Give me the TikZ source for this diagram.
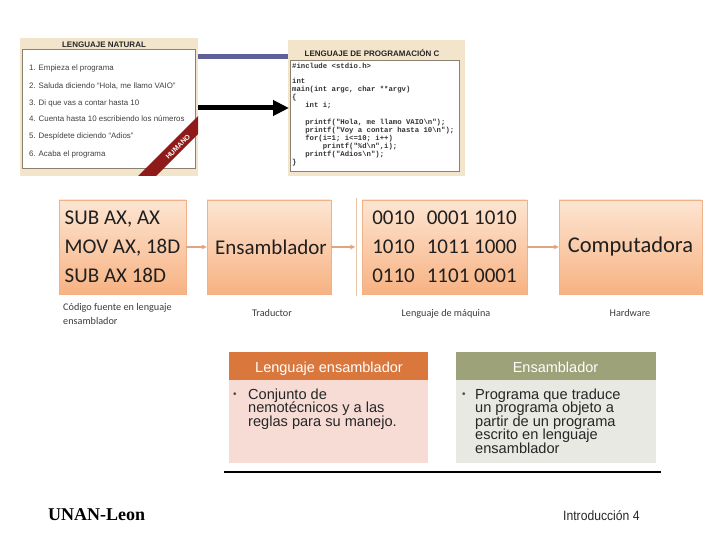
\documentclass[tikz,border=0pt]{standalone}
\usepackage{fontspec}
\setmainfont{Liberation Sans}
\newfontfamily\calfont{Carlito}
\newfontfamily\monofnt{Liberation Mono}
\newfontfamily\serfnt{Liberation Serif}
\newfontfamily\narrowfnt[FakeStretch=0.9]{Liberation Sans}
\usetikzlibrary{arrows.meta}
\definecolor{beige}{HTML}{F2E5CB}
\definecolor{frameC}{HTML}{8C8070}
\definecolor{ribbon}{HTML}{8E1A1A}
\definecolor{pbar}{HTML}{5F6096}
\definecolor{ftop}{HTML}{FDE5D2}
\definecolor{fbot}{HTML}{F7B282}
\definecolor{fborder}{HTML}{F0B088}
\definecolor{farrowC}{HTML}{E2A47C}
\definecolor{vlineC}{HTML}{EBC6A6}
\definecolor{capC}{HTML}{3C3C3C}
\definecolor{hOrange}{HTML}{D9773D}
\definecolor{hGreen}{HTML}{9DA279}
\definecolor{bPink}{HTML}{F6DCD5}
\definecolor{bGrey}{HTML}{E8E9E2}
\begin{document}
\begin{tikzpicture}[x=1pt,y=-1pt,
  ttl/.style={font=\bfseries\fontsize{8}{8}\selectfont, text=black!85, inner sep=0pt},
  item/.style={font=\fontsize{7.9}{8}\selectfont, text=black!75, inner sep=0pt, anchor=base west},
  code/.style={font=\monofnt\bfseries\fontsize{7.3}{8}\selectfont, text=black!80, inner sep=0pt, anchor=base west},
  fbox/.style={rectangle, draw=fborder, line width=0.6pt, top color=ftop, bottom color=fbot, font=\calfont\fontsize{21}{29}\selectfont, text=black!88, inner sep=0pt, minimum height=94pt, align=left},
  farrow/.style={draw=farrowC, line width=1.3pt, -{Stealth[length=5pt,width=5pt]}},
  capt/.style={font=\calfont\fontsize{10.2}{12}\selectfont, text=capC, inner sep=0pt, anchor=base},
  hdr/.style={rectangle, inner sep=0pt, minimum height=28pt, text=white, font=\fontsize{14.5}{16}\selectfont},
  bodyb/.style={rectangle, inner sep=0pt, minimum height=83pt},
  btxt/.style={font=\fontsize{14.6}{16}\selectfont, text=black!85, inner sep=0pt, anchor=base west}
]
\useasboundingbox (0,0) rectangle (720,540);
\fill[white] (0,0) rectangle (720,540);

% ---------- top-left image: natural language ----------
\fill[beige] (20,38) rectangle (198,176);
\draw[frameC, fill=white, line width=0.8pt] (22,49) rectangle (195,168);
\node[ttl] (tnat) at (104,45) {LENGUAJE NATURAL};
\node[item] (n1) at (29,70.8) {1. Empieza el programa};
\node[item] (n2) at (29,88.8) {2. Saluda diciendo “Hola, me llamo VAIO”};
\node[item] (n3) at (29,105.8) {3. Di que vas a contar hasta 10};
\node[item] (n4) at (29,121.8) {4. Cuenta hasta 10 escribiendo los números};
\node[item] (n5) at (29,138.8) {5. Despídete diciendo “Adios”};
\node[item] (n6) at (29,156.8) {6. Acaba el programa};
\begin{scope}
  \clip (20,38) rectangle (198,176);
  \fill[ribbon] (132,182) -- (202,112) -- (211,121) -- (141,191) -- cycle;
\end{scope}
\node[font=\bfseries\fontsize{7}{7}\selectfont, text=white, rotate=45, inner sep=0pt] (hum) at (178,147) {HUMANO};

% ---------- top-right image: C program ----------
\fill[beige] (288,40) rectangle (465,176);
\draw[frameC, fill=white, line width=0.8pt] (290,60) rectangle (459,171);
\node[ttl] (tprog) at (372,53) {LENGUAJE DE PROGRAMACIÓN C};
\node[code] (c0) at (292,68.5) {\#include <stdio.h>};
\node[code] (c2) at (292,84) {int};
\node[code] (c3) at (292,92) {main(int argc, char **argv)};
\node[code] (c4) at (292,100) {\{};
\node[code] (c5) at (292,108) {\phantom{xxx}int i;};
\node[code] (c7) at (292,124.5) {\phantom{xxx}printf("Hola, me llamo VAIO\textbackslash n");};
\node[code] (c8) at (292,132.5) {\phantom{xxx}printf("Voy a contar hasta 10\textbackslash n");};
\node[code] (c9) at (292,140.5) {\phantom{xxx}for(i=1; i<=10; i++)};
\node[code] (c10) at (292,148.5) {\phantom{xxxxxxx}printf("\%d\textbackslash n",i);};
\node[code] (c11) at (292,156.5) {\phantom{xxx}printf("Adios\textbackslash n");};
\node[code] (c12) at (292,164.5) {\}};

% bar and arrow between the images
\fill[pbar] (198,54) rectangle (288,59);
\coordinate (aL) at (198,108);
\coordinate (aR) at (289,108);
\draw[line width=5pt, -{Triangle[length=16pt,width=15pt]}] (aL) -- (aR);

% ---------- flow chart ----------
\node[fbox, minimum width=127pt] (b1) at (122.5,247) {SUB AX, AX\\MOV AX, 18D\\SUB AX 18D};
\node[fbox, minimum width=124pt] (b2) at (269,247) {\hspace*{4pt}Ensamblador};
\node[fbox, minimum width=165pt] (b3) at (444.5,247) {0010\hspace{12pt}0001 1010\\1010\hspace{12pt}1011 1000\\0110\hspace{12pt}1101 0001};
\node[fbox, minimum width=143pt, font=\calfont\fontsize{22.5}{29}\selectfont] (b4) at (630.5,247) {Computadora};
\coordinate (vt) at (356,198);
\coordinate (vb) at (356,296);
\draw[vlineC, line width=0.8pt] (vt) -- (vb);
\draw[farrow] (b1) -- (b2);
\draw[farrow] (b2.east) -- ([xshift=-1pt]b2.east -| vt);
\draw[farrow] (b3) -- (b4);

\node[capt, anchor=base west] (k1) at (63,310) {Código fuente en lenguaje};
\node[capt, anchor=base west] (k1b) at (63,324) {ensamblador};
\node[capt] (k2) at (272,316.5) {Traductor};
\node[capt] (k3) at (446,316.5) {Lenguaje de máquina};
\node[capt] (k4) at (630,316.5) {Hardware};

% ---------- definition boxes ----------
\node[hdr, fill=hOrange, minimum width=199pt] (h1) at (328.5,366) {};
\node[bodyb, fill=bPink, minimum width=199pt, anchor=north] (p1) at (h1.south) {};
\node[hdr, fill=hGreen, minimum width=200pt] (h2) at (555.5,366) {};
\node[bodyb, fill=bGrey, minimum width=200pt, anchor=north] (p2) at (h2.south) {};
\node[hdr, anchor=base, minimum height=0pt] (h1t) at (329,372) {Lenguaje ensamblador};
\node[hdr, anchor=base, minimum height=0pt] (h2t) at (555.5,372) {Ensamblador};

\node[btxt, font=\fontsize{10}{10}\selectfont, text=black!70] (d1) at (233,397) {•};
\node[btxt] (l1) at (248,399) {Conjunto de};
\node[btxt] (l2) at (248,412.5) {nemotécnicos y a las};
\node[btxt] (l3) at (248,426) {reglas para su manejo.};

\node[btxt, font=\fontsize{10}{10}\selectfont, text=black!70] (d2) at (462,397) {•};
\node[btxt] (r1) at (475,399) {Programa que traduce};
\node[btxt] (r2) at (475,412.5) {un programa objeto a};
\node[btxt] (r3) at (475,426) {partir de un programa};
\node[btxt] (r4) at (475,439.5) {escrito en lenguaje};
\node[btxt] (r5) at (475,453) {ensamblador};

\coordinate (hlL) at (224,472);
\coordinate (hlR) at (661,472);
\draw[line width=2.2pt] (hlL) -- (hlR);

% ---------- footer ----------
\node[font=\serfnt\bfseries\fontsize{18}{18}\selectfont, inner sep=0pt, anchor=base west] (unan) at (48,520) {UNAN-Leon};
\node[font=\narrowfnt\fontsize{13.5}{14}\selectfont, inner sep=0pt, anchor=base west, text=black!85] (intro) at (563,520) {Introducción 4};
\end{tikzpicture}
\end{document}
